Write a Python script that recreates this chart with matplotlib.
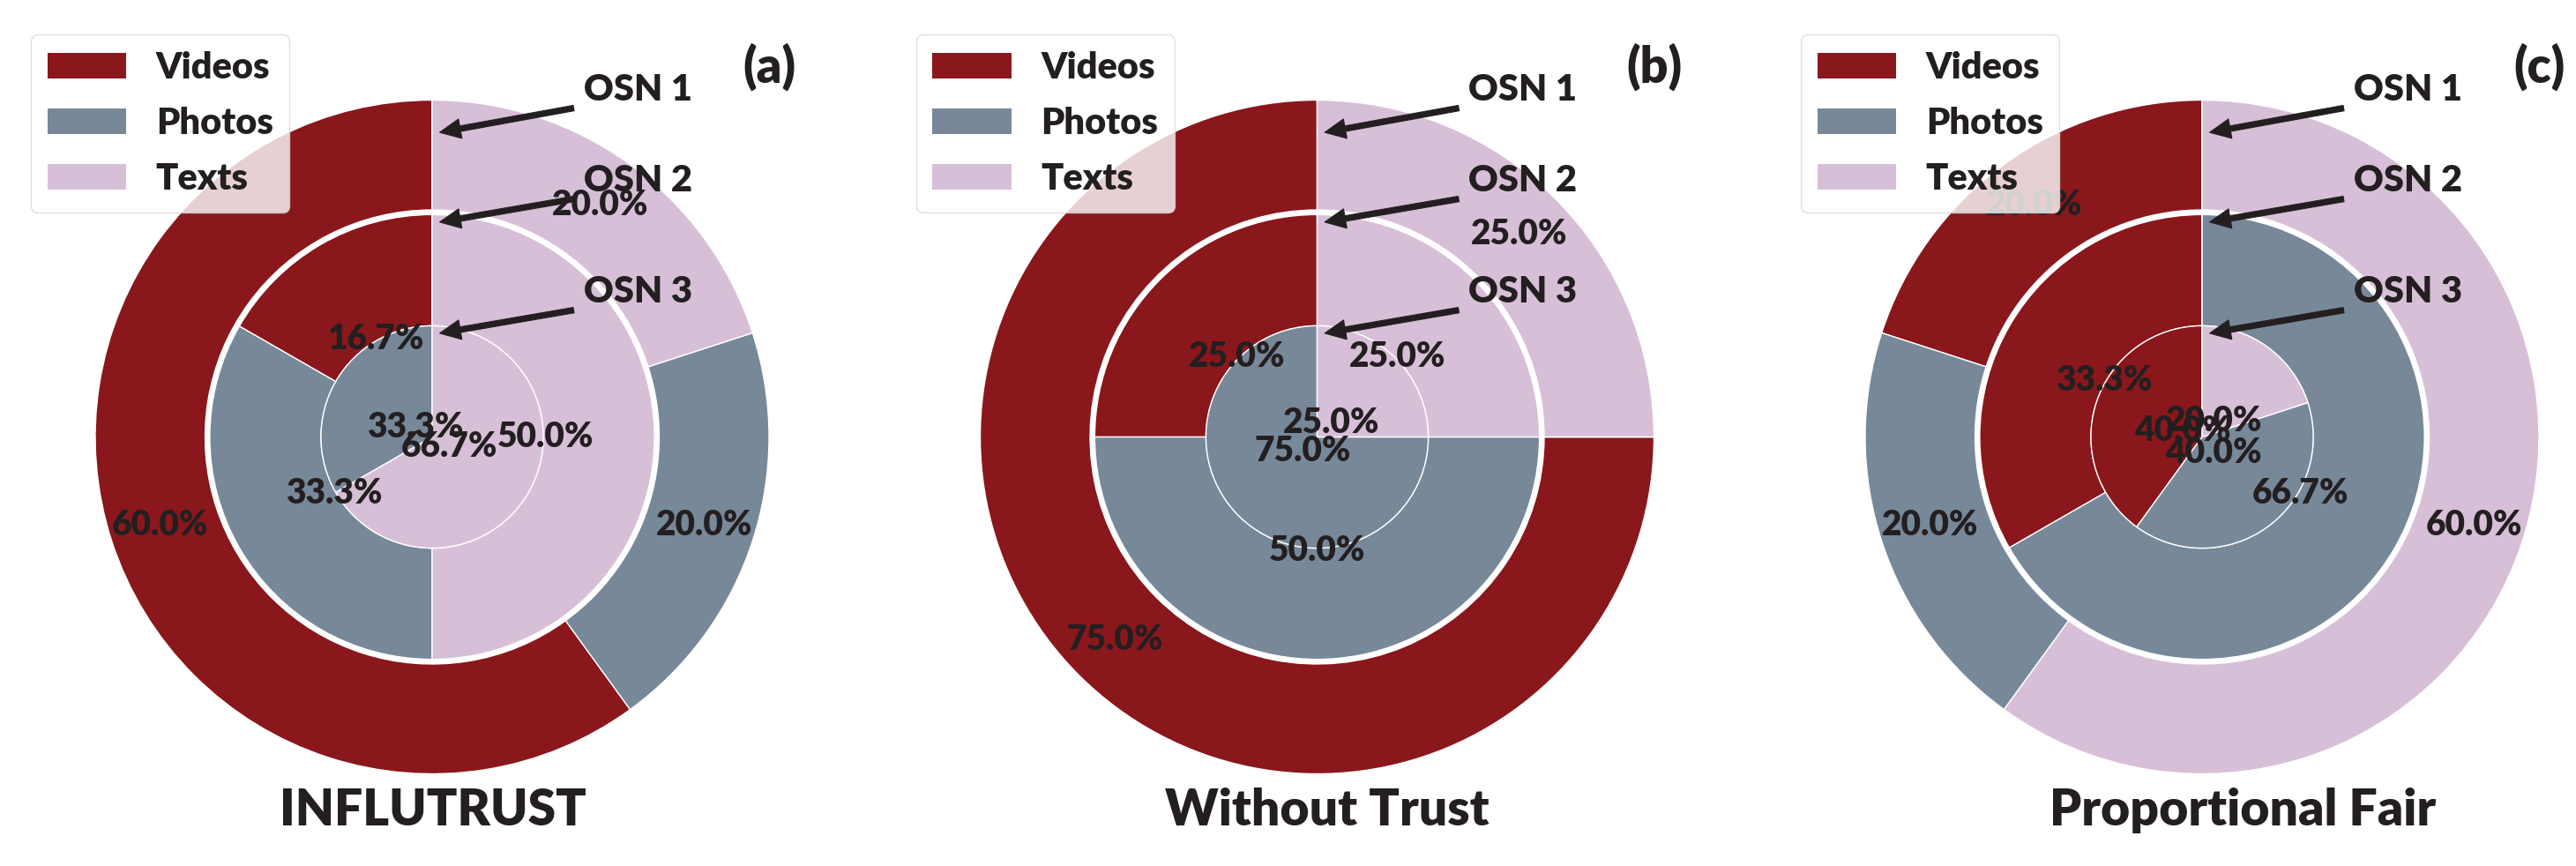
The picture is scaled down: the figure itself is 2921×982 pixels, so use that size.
import matplotlib
matplotlib.use('Agg')
import matplotlib.pyplot as plt

# ---------------- data ----------------
categories = ['Videos', 'Photos', 'Texts']
ring_names = ['OSN 1', 'OSN 2', 'OSN 3']
panel_titles = ['INFLUTRUST', 'Without Trust', 'Proportional Fair']
panel_tags = ['(a)', '(b)', '(c)']

influtrust_osn1 = [60.0, 20.0, 20.0]
influtrust_osn2 = [16.7, 33.3, 50.0]
influtrust_osn3 = [0.0, 33.3, 66.7]

without_trust_osn1 = [75.0, 0.0, 25.0]
without_trust_osn2 = [25.0, 50.0, 25.0]
without_trust_osn3 = [0.0, 75.0, 25.0]

prop_fair_osn1 = [20.0, 20.0, 60.0]
prop_fair_osn2 = [33.3, 66.7, 0.0]
prop_fair_osn3 = [40.0, 40.0, 20.0]

panels = [
    [influtrust_osn1, influtrust_osn2, influtrust_osn3],
    [without_trust_osn1, without_trust_osn2, without_trust_osn3],
    [prop_fair_osn1, prop_fair_osn2, prop_fair_osn3],
]

# ---------------- style ----------------
colors = ['#8a171c', '#778899', '#d8bfd8']
TXT = '#231f20'
FONT = ['Lato', 'DejaVu Sans']
WEIGHT = 'heavy'
plt.rcParams['font.family'] = FONT
plt.rcParams['font.weight'] = WEIGHT

W, H, DPI = 2921, 982, 100
fig = plt.figure(figsize=(W / DPI, H / DPI), dpi=DPI)

SCALE = 382.0          # pixels per data unit (outer radius = 1)
centers_x = [490.0, 1493.5, 2497.0]
CY_TOP = 495.5         # pie centre, pixels from top
HALF_W = 500.0

# (radius, ring width, pctdistance)
ring_geom = [(1.0, 0.326, 0.85), (0.66, 0.33, 0.51), (0.33, None, 0.18)]
arrow_xy = [(0.0, 0.90), (0.0, 0.634), (0.0, 0.304)]
text_xy = [(0.45, 1.0), (0.45, 0.73), (0.45, 0.40)]


def pct_fmt(p):
    return f'{p:.1f}%' if p > 0.05 else ''


for i, rings in enumerate(panels):
    cx = centers_x[i]
    ax = fig.add_axes([(cx - HALF_W) / W, 0.0, 2 * HALF_W / W, 1.0])
    for vals, (rad, wid, pdist) in zip(rings, ring_geom):
        wp = dict(edgecolor='white', linewidth=1.0)
        if wid is not None:
            wp['width'] = wid
        ax.pie(vals, radius=rad, colors=colors, startangle=90,
               counterclock=True, autopct=pct_fmt, pctdistance=pdist,
               wedgeprops=wp,
               textprops=dict(fontsize=28, fontweight=WEIGHT, color=TXT))
    ax.set_aspect('auto')
    ax.set_xlim(-HALF_W / SCALE, HALF_W / SCALE)
    ax.set_ylim(-(H - CY_TOP) / SCALE, CY_TOP / SCALE)
    ax.axis('off')

    for name, xy, xyt in zip(ring_names, arrow_xy, text_xy):
        ax.annotate(name, xy=xy, xytext=xyt, fontsize=30, fontweight=WEIGHT,
                    color=TXT, ha='left', va='baseline',
                    arrowprops=dict(facecolor=TXT, edgecolor=TXT, shrink=0.05,
                                    width=4.5, headwidth=16, headlength=17,
                                    linewidth=0.8))

    ax.text(1.0, 1.10, panel_tags[i], ha='center', va='center',
            fontsize=40, fontweight=WEIGHT, color=TXT)
    ax.text(-0.452, -1.153, panel_titles[i], ha='left', va='baseline',
            fontsize=41, fontweight=WEIGHT, color=TXT)

    handles = [plt.Rectangle((0, 0), 1, 1, facecolor=c) for c in colors]
    leg = ax.legend(handles, categories, loc='upper left',
                    bbox_to_anchor=(-1.191, 1.194),
                    bbox_transform=ax.transData, borderaxespad=0.0,
                    prop=dict(family=FONT, weight=WEIGHT, size=30),
                    handlelength=2.15, handleheight=0.7, handletextpad=0.8,
                    labelspacing=0.6, borderpad=0.45, frameon=True,
                    fancybox=True, framealpha=0.8, edgecolor='0.85')
    for t in leg.get_texts():
        t.set_color(TXT)

fig.savefig('out.png', dpi=DPI)
